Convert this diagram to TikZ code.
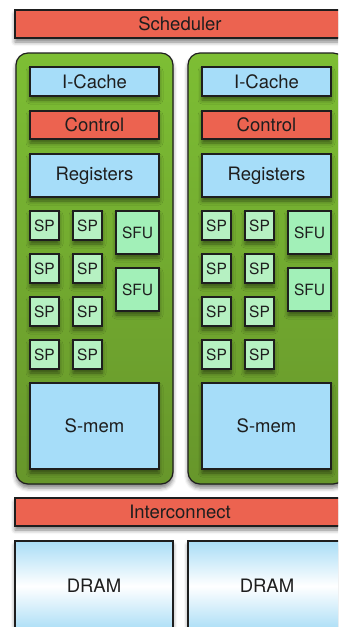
\documentclass[tikz,border=0pt]{standalone}
\usepackage{fontspec}
\setmainfont{TeX Gyre Heros}
\usetikzlibrary{positioning,shadows.blur}
\definecolor{edge}{HTML}{1E1E1E}
\definecolor{ctlred}{HTML}{EC6350}
\definecolor{memblue}{HTML}{A6DDF9}
\definecolor{smtop}{HTML}{7DBE34}
\definecolor{smbot}{HTML}{67962B}
\definecolor{spgreen}{HTML}{B6F1C2}
\definecolor{sfugreen}{HTML}{A2F0B8}
\definecolor{dramblue}{HTML}{A9DDF6}

\begin{document}
\begin{tikzpicture}[
x=1pt, y=-1pt,
node distance=14pt,
unit/.style={draw=edge, line width=1.2pt, inner sep=0pt, outer sep=0pt, text=edge, font=\fontsize{18.5}{20}\selectfont,
  blur shadow={shadow xshift=0pt, shadow yshift=-4pt, shadow blur radius=4pt, shadow opacity=50}},
redbar/.style={unit, fill=ctlred},
bluebox/.style={unit, fill=memblue, minimum width=129pt},
smbox/.style={unit, rounded corners=12pt, top color=smtop, bottom color=smbot, minimum width=157pt, minimum height=431pt},
spbox/.style={unit, fill=spgreen, minimum width=29pt, minimum height=29pt, font=\fontsize{15.5}{17}\selectfont},
sfubox/.style={unit, fill=sfugreen, minimum width=43pt, minimum height=43pt, font=\fontsize{15.5}{17}\selectfont},
dram/.style={unit, top color=dramblue, bottom color=dramblue, middle color=white, minimum width=158pt, minimum height=90pt}
]
\useasboundingbox (0,0) rectangle (338,627);
\clip (0,0) rectangle (338,627);
\node[redbar, minimum width=330pt, minimum height=28pt, anchor=north west] (sched) at (15,10) {Scheduler};
% first SM
\node[smbox, anchor=north west] (sm1) at (16,53) {};
\node[bluebox, minimum height=29pt, anchor=north west] (icache1) at (30,67) {I-Cache};
\node[redbar, minimum width=129pt, minimum height=28pt, below=15pt of icache1] (control1) {Control};
\node[bluebox, minimum height=43pt, below=15pt of control1] (regs1) {Registers};
\node[spbox, below=of regs1.south west, anchor=north west] (sp1a) {SP};
\node[spbox, right=of sp1a] (sp1b) {SP};
\node[spbox, below=of sp1a] (sp1c) {SP};
\node[spbox, right=of sp1c] (sp1d) {SP};
\node[spbox, below=of sp1c] (sp1e) {SP};
\node[spbox, right=of sp1e] (sp1f) {SP};
\node[spbox, below=of sp1e] (sp1g) {SP};
\node[spbox, right=of sp1g] (sp1h) {SP};
\node[sfubox, right=of sp1b.north east, anchor=north west] (sfu1a) {SFU};
\node[sfubox, below=of sfu1a] (sfu1b) {SFU};
\node[bluebox, minimum height=86pt, below=of sp1g.south west, anchor=north west] (smem1) {S-mem};
% second SM
\node[smbox, anchor=north west] (sm2) at (188,53) {};
\node[bluebox, minimum height=29pt, anchor=north west] (icache2) at (202,67) {I-Cache};
\node[redbar, minimum width=129pt, minimum height=28pt, below=15pt of icache2] (control2) {Control};
\node[bluebox, minimum height=43pt, below=15pt of control2] (regs2) {Registers};
\node[spbox, below=of regs2.south west, anchor=north west] (sp2a) {SP};
\node[spbox, right=of sp2a] (sp2b) {SP};
\node[spbox, below=of sp2a] (sp2c) {SP};
\node[spbox, right=of sp2c] (sp2d) {SP};
\node[spbox, below=of sp2c] (sp2e) {SP};
\node[spbox, right=of sp2e] (sp2f) {SP};
\node[spbox, below=of sp2e] (sp2g) {SP};
\node[spbox, right=of sp2g] (sp2h) {SP};
\node[sfubox, right=of sp2b.north east, anchor=north west] (sfu2a) {SFU};
\node[sfubox, below=of sfu2a] (sfu2b) {SFU};
\node[bluebox, minimum height=86pt, below=of sp2g.south west, anchor=north west] (smem2) {S-mem};
% memory side
\node[redbar, minimum width=330pt, minimum height=28pt, anchor=north west] (inter) at (15,498) {Interconnect};
\node[dram, anchor=north west] (dram1) at (15,541) {DRAM};
\node[dram, anchor=north west] (dram2) at (188,541) {DRAM};
\end{tikzpicture}
\end{document}
